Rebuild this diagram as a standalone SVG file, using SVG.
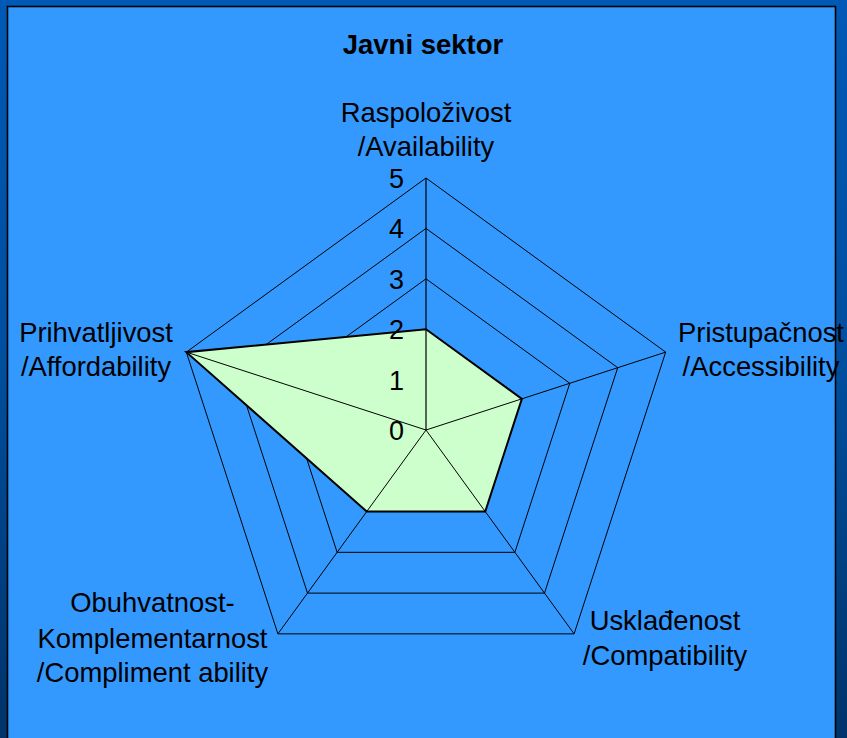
<svg xmlns="http://www.w3.org/2000/svg" width="847" height="738" viewBox="0 0 847 738">
<defs>
<linearGradient id="frame" x1="0" y1="0" x2="0" y2="1">
<stop offset="0" stop-color="#0059B5"/>
<stop offset="0.5" stop-color="#004E9E"/>
<stop offset="1" stop-color="#00336A"/>
</linearGradient>
<style>
.t{font-family:"Liberation Sans",Arial,sans-serif;font-size:27.4px;fill:#000;text-anchor:middle}
.n{font-family:"Liberation Sans",Arial,sans-serif;font-size:27px;fill:#000;text-anchor:end}
.title{font-family:"Liberation Sans",Arial,sans-serif;font-size:27.5px;font-weight:bold;fill:#000;text-anchor:middle}
.ring{fill:none;stroke:#000;stroke-width:1}
.spoke{stroke:#000;stroke-width:1}
</style>
</defs>
<rect x="0" y="0" width="847" height="738" fill="url(#frame)"/>
<rect x="7.5" y="6.5" width="828" height="740" fill="#3399FF" stroke="#000" stroke-width="1.6"/>
<g id="title"><text class="title" x="423" y="53.5">Javni sektor</text></g>
<g id="grid">
<polygon class="ring" points="426,379.6 473.93,414.43 455.62,470.77 396.38,470.77 378.07,414.43"/>
<polygon class="ring" points="426,329.2 521.87,398.85 485.25,511.55 366.75,511.55 330.13,398.85"/>
<polygon class="ring" points="426,278.8 569.8,383.28 514.87,552.32 337.13,552.32 282.2,383.28"/>
<polygon class="ring" points="426,228.4 617.73,367.7 544.5,593.1 307.5,593.1 234.27,367.7"/>
<polygon class="ring" points="426,178 665.67,352.13 574.12,633.87 277.88,633.87 186.33,352.13"/>
</g>
<g id="series">
<polygon points="426,329.2 521.87,398.85 485.25,511.55 366.75,511.55 186.33,352.13" fill="#CCFFCC" stroke="#000" stroke-width="2" stroke-linejoin="miter"/>
</g>
<g id="connectors">
<line class="spoke" x1="426" y1="430" x2="665.67" y2="352.13"/>
<line class="spoke" x1="426" y1="430" x2="574.12" y2="633.87"/>
<line class="spoke" x1="426" y1="430" x2="277.88" y2="633.87"/>
<line class="spoke" x1="426" y1="430" x2="186.33" y2="352.13"/>
<line x1="426" y1="430" x2="426" y2="178" stroke="#000" stroke-width="2" stroke-opacity="0.6"/>
</g>
<g id="axis-labels">
<text class="n" x="404" y="188">5</text>
<text class="n" x="404" y="238">4</text>
<text class="n" x="404" y="288.5">3</text>
<text class="n" x="404" y="339">2</text>
<text class="n" x="404" y="389.5">1</text>
<text class="n" x="404" y="440">0</text>
</g>
<g id="availability"><text class="t" x="426" y="122">Raspoloživost</text><text class="t" x="426" y="155.5">/Availability</text></g>
<g id="accessibility"><text class="t" x="761" y="342">Pristupačnost</text><text class="t" x="761" y="376">/Accessibility</text></g>
<g id="compatibility"><text class="t" x="665" y="630">Usklađenost</text><text class="t" x="665" y="665">/Compatibility</text></g>
<g id="compliment"><text class="t" x="152.5" y="612">Obuhvatnost-</text><text class="t" x="152.5" y="648">Komplementarnost</text><text class="t" x="152.5" y="682">/Compliment ability</text></g>
<g id="affordability"><text class="t" x="96" y="342">Prihvatljivost</text><text class="t" x="96" y="375.5">/Affordability</text></g>
</svg>
